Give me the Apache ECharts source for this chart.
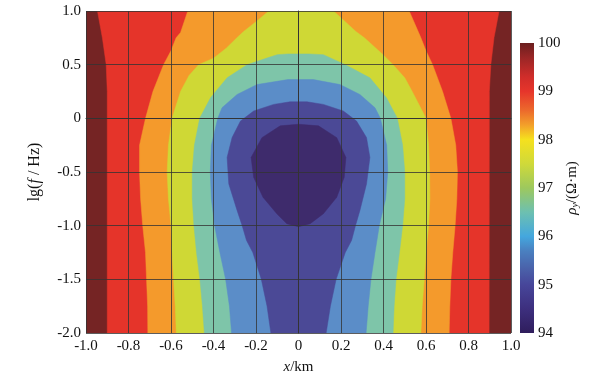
<!DOCTYPE html>
<html>
<head>
<meta charset="utf-8">
<script src="https://cdn.jsdelivr.net/npm/echarts@6/dist/echarts.min.js"></script>
<style>html,body{margin:0;padding:0;background:#fff}#c{width:596px;height:381px}</style>
</head>
<body>
<div id="c"></div>
<script>
// ---- data ----
const xTickLabels = ['-1.0','-0.8','-0.6','-0.4','-0.2','0','0.2','0.4','0.6','0.8','1.0'];
const yTickLabels = ['-2.0','-1.5','-1.0','-0.5','0','0.5','1.0'];
const cbTickLabels = ['94','95','96','97','98','99','100'];

// filled contour regions, outermost first (x in km, y = lg f)
const bandBrown = [[-1,1],[1,1],[1,-2],[-1,-2]];
const bandRed = [[-0.946,1.0],[-0.923,0.75],[-0.905,0.5],[-0.90,0.25],[-0.90,-2.0],
  [0.897,-2.0],[0.898,0.25],[0.905,0.5],[0.92,0.75],[0.944,1.0]];
const bandOrange = [[-0.521,1.0],[-0.555,0.8],[-0.576,0.75],[-0.60,0.63],[-0.635,0.5],[-0.685,0.25],
  [-0.72,0],[-0.748,-0.25],[-0.748,-0.5],[-0.743,-0.75],[-0.733,-1.0],[-0.72,-1.25],[-0.715,-1.5],
  [-0.71,-1.75],[-0.709,-2.0],
  [0.709,-2.0],[0.712,-1.75],[0.717,-1.5],[0.726,-1.25],[0.737,-1.0],[0.745,-0.75],[0.748,-0.5],
  [0.74,-0.25],[0.717,0],[0.678,0.25],[0.631,0.5],[0.6,0.63],[0.576,0.75],[0.521,1.0]];
const bandYellow = [[-0.14,1.0],[-0.20,0.9],[-0.258,0.81],[-0.29,0.75],[-0.34,0.654],[-0.40,0.56],
  [-0.47,0.5],[-0.515,0.4],[-0.555,0.25],[-0.595,0],[-0.612,-0.25],[-0.618,-0.5],[-0.612,-0.75],
  [-0.60,-1.0],[-0.595,-1.25],[-0.588,-1.5],[-0.58,-1.75],[-0.575,-2.0],
  [0.576,-2.0],[0.582,-1.75],[0.592,-1.5],[0.60,-1.25],[0.612,-1.0],[0.618,-0.75],[0.617,-0.5],
  [0.612,-0.25],[0.60,0],[0.535,0.25],[0.50,0.377],[0.445,0.5],[0.398,0.593],[0.31,0.75],
  [0.27,0.809],[0.22,0.9],[0.165,1.0]];
const bandTeal = [[-0.05,0.60],[-0.10,0.593],[-0.148,0.562],[-0.242,0.5],[-0.336,0.377],[-0.414,0.191],
  [-0.465,0],[-0.49,-0.25],[-0.50,-0.5],[-0.50,-0.75],[-0.492,-1.0],[-0.48,-1.25],[-0.464,-1.5],
  [-0.452,-1.75],[-0.443,-2.0],
  [0.445,-2.0],[0.45,-1.75],[0.459,-1.5],[0.475,-1.25],[0.49,-1.0],[0.50,-0.75],[0.50,-0.5],
  [0.49,-0.25],[0.465,0],[0.414,0.191],[0.336,0.377],[0.22,0.5],[0.117,0.593],[0.05,0.60]];
const bandBlue = [[-0.05,0.361],[-0.195,0.315],[-0.289,0.222],[-0.36,0.099],[-0.38,0],[-0.41,-0.25],
  [-0.415,-0.5],[-0.41,-0.75],[-0.395,-1.0],[-0.37,-1.25],[-0.343,-1.5],[-0.325,-1.75],[-0.315,-2.0],
  [0.318,-2.0],[0.328,-1.75],[0.341,-1.5],[0.36,-1.25],[0.38,-1.0],[0.41,-0.75],[0.42,-0.5],
  [0.415,-0.25],[0.385,0],[0.36,0.099],[0.289,0.222],[0.195,0.315],[0.07,0.361]];
const bandIndigo = [[-0.04,0.154],[-0.117,0.13],[-0.211,0.068],[-0.273,-0.025],[-0.3125,-0.179],
  [-0.336,-0.364],[-0.328,-0.611],[-0.289,-0.858],[-0.265,-1.0],[-0.245,-1.136],[-0.215,-1.25],
  [-0.175,-1.5],[-0.148,-1.75],[-0.13,-2.0],
  [0.13,-2.0],[0.15,-1.75],[0.177,-1.5],[0.22,-1.25],[0.25,-1.136],[0.268,-1.0],[0.289,-0.858],
  [0.32,-0.611],[0.336,-0.364],[0.32,-0.179],[0.273,-0.025],[0.211,0.068],[0.117,0.13],[0.04,0.154]];
const bandPurple = [[-0.086,-0.07],[0,-0.055],[0.094,-0.07],[0.18,-0.18],[0.223,-0.364],[0.215,-0.549],
  [0.18,-0.735],[0.117,-0.889],[0.055,-0.981],[0,-1.01],[-0.055,-0.981],[-0.102,-0.889],
  [-0.167,-0.735],[-0.211,-0.549],[-0.223,-0.364],[-0.172,-0.18]];

const bands = [bandBrown, bandRed, bandOrange, bandYellow, bandTeal, bandBlue, bandIndigo, bandPurple];
const bandColors = ['#752424','#e5342a','#f49a2c','#cfd835','#7ec5a9','#5b8dc8','#4b4996','#3e2b6c'];

// colour bar
const cbRange = [94, 100];
const cbStops = [
  [0,'#6b1f1f'],[0.05,'#9a2626'],[0.117,'#d02d2a'],[0.167,'#e6352b'],[0.233,'#ec6a2c'],
  [0.283,'#f3a02a'],[0.333,'#f5e11e'],[0.417,'#cfd93a'],[0.5,'#9dc85e'],[0.583,'#6dc0b0'],
  [0.667,'#44a7de'],[0.717,'#4a80c0'],[0.783,'#4a5fa8'],[0.833,'#47469a'],[0.917,'#3d2f7e'],[1,'#2f1d5c']];

// ---- chart ----
const FONT = 'Liberation Serif';
const chart = echarts.init(document.getElementById('c'), null, {renderer:'canvas'});
const txt = {fontFamily: FONT, fontSize: 15, color: '#111'};
const txtN = {fontFamily: FONT, fontSize: 16, color: '#111'};

chart.setOption({
  animation: false,
  grid: [
    {left: 86, top: 11, width: 425, height: 322},
    {left: 520, top: 43, width: 14, height: 290}
  ],
  xAxis: [
    {gridIndex: 0, type: 'value', min: -1, max: 1, interval: 0.2, z: 10,
     axisLine: {show: true, lineStyle: {color: '#333', width: 1}},
     axisTick: {show: false},
     splitLine: {show: true, lineStyle: {color: '#333', width: 0.8}},
     axisLabel: Object.assign({margin: 6, formatter: (v) => xTickLabels[Math.round((v + 1) / 0.2)]}, txt),
     name: '{i|x}{n|/km}', nameLocation: 'middle', nameGap: 27,
     nameTextStyle: {rich: {i: Object.assign({fontStyle: 'italic'}, txt), n: txt}}
    },
    {gridIndex: 1, type: 'value', min: 0, max: 1, show: false}
  ],
  yAxis: [
    {gridIndex: 0, type: 'value', min: -2, max: 1, interval: 0.5, z: 10,
     axisLine: {show: true, lineStyle: {color: '#333', width: 1}},
     axisTick: {show: false},
     splitLine: {show: true, lineStyle: {color: '#333', width: 0.8}},
     axisLabel: Object.assign({margin: 5, formatter: (v) => yTickLabels[Math.round((v + 2) / 0.5)]}, txt),
     name: '{n|lg(}{i|f}{n| / Hz)}', nameLocation: 'middle', nameGap: 43, nameRotate: 90,
     nameTextStyle: {rich: {i: Object.assign({fontStyle: 'italic'}, txtN), n: txtN}}
    },
    {gridIndex: 1, type: 'value', min: cbRange[0], max: cbRange[1], interval: 1, position: 'right',
     axisLine: {show: false}, axisTick: {show: false}, splitLine: {show: false},
     axisLabel: Object.assign({margin: 4, formatter: (v) => cbTickLabels[Math.round(v - 94)]}, txt),
     name: '{i|ρ}{s|y}{n|/(Ω·m)}', nameLocation: 'middle', nameGap: 27, nameRotate: 90,
     nameTextStyle: {rich: {
       i: Object.assign({fontStyle: 'italic'}, txt),
       s: {fontFamily: FONT, fontSize: 10, fontStyle: 'italic', color: '#111', padding: [7, 0, 0, 0]},
       n: txt}}
    }
  ],
  series: [
    {
      type: 'custom', xAxisIndex: 0, yAxisIndex: 0, clip: true,
      data: bands.map((b, i) => [i]),
      encode: {x: -1, y: -1},
      renderItem: function (params, api) {
        const poly = bands[params.dataIndex];
        return {
          type: 'polygon',
          shape: {points: poly.map(p => api.coord(p))},
          style: {fill: bandColors[params.dataIndex], stroke: bandColors[params.dataIndex], lineWidth: 0.5}
        };
      }
    },
    {
      type: 'custom', xAxisIndex: 1, yAxisIndex: 1,
      data: [[0, cbRange[0], 1, cbRange[1]]],
      renderItem: function (params, api) {
        const p0 = api.coord([api.value(0), api.value(3)]);
        const p1 = api.coord([api.value(2), api.value(1)]);
        return {
          type: 'rect',
          shape: {x: p0[0], y: p0[1], width: p1[0] - p0[0], height: p1[1] - p0[1]},
          style: {fill: new echarts.graphic.LinearGradient(0, 0, 0, 1,
            cbStops.map(s => ({offset: s[0], color: s[1]})))}
        };
      }
    }
  ]
});
</script>
</body>
</html>
